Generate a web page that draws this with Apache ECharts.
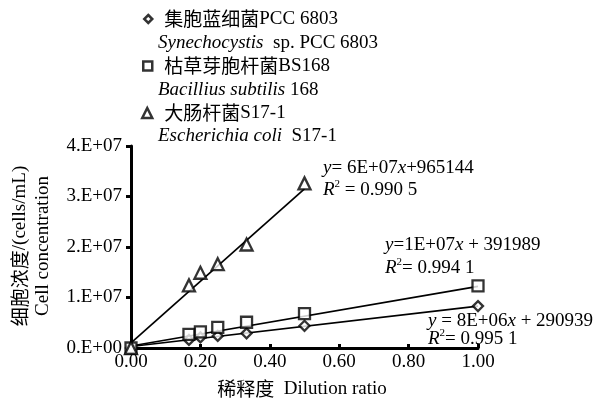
<!DOCTYPE html>
<html><head><meta charset="utf-8">
<script src="https://cdn.jsdelivr.net/npm/echarts@6/dist/echarts.min.js"></script>
<style>html,body{margin:0;padding:0;background:#fff}#c{width:616px;height:401px}</style>
</head><body><div id="c"></div><script>
// ---- data ----
const dilution = [0, 0.167, 0.2, 0.25, 0.333, 0.5, 1.0];
const synechocystis = [0, 0.16e7, 0.21e7, 0.24e7, 0.29e7, 0.44e7, 0.83e7];
const bacillus = [0, 0.27e7, 0.32e7, 0.41e7, 0.51e7, 0.68e7, 1.23e7];
const ecoliDilution = [0, 0.167, 0.2, 0.25, 0.333, 0.5];
const ecoli = [0, 1.24e7, 1.49e7, 1.66e7, 2.05e7, 3.26e7];
const fitX = [0, 1.0];
const synFit = [0.03e7, 0.83e7];
const bacFit = [0.04e7, 1.22e7];
const ecoliFitX = [0, 0.5];
const ecoliFit = [0.1e7, 3.15e7];
const xTickLabels = ['0.00', '0.20', '0.40', '0.60', '0.80', '1.00'];
const yTickLabels = ['0.E+00', '1.E+07', '2.E+07', '3.E+07', '4.E+07'];
const seriesNames = ['集胞蓝细菌PCC 6803', '枯草芽胞杆菌BS168', '大肠杆菌S17-1'];
const latinNames = [['Synechocystis', '  sp. PCC 6803'], ['Bacillius subtilis', ' 168'], ['Escherichia coli', '  S17-1']];
const eqLines = [
  ['{i|y}{n|= 6E+07}{i|x}{n|+965144}', '{i|R}{s|2}{n| = 0.990 5}'],
  ['{i|y}{n|=1E+07}{i|x}{n| + 391989}', '{i|R}{s|2}{n|= 0.994 1}'],
  ['{i|y}{n| = 8E+06}{i|x}{n| + 290939}', '{i|R}{s|2}{n|= 0.995 1}']
];
const xName = ['稀释度', '  Dilution ratio'];
const yName = [['细胞浓度', '/(cells/mL)'], 'Cell concentration'];

// ---- styles ----
const SERIF = 'Liberation Serif';
const CJK = 'Noto Sans CJK SC';
const FS = 19;
const rich = {
  sp: {width: 7},
  cn: {fontFamily: CJK, fontSize: FS, color: '#000', lineHeight: 22},
  n: {fontFamily: SERIF, fontSize: FS, color: '#000', lineHeight: 22},
  i: {fontFamily: SERIF, fontSize: FS, fontStyle: 'italic', color: '#000', lineHeight: 22},
  s: {fontFamily: SERIF, fontSize: 11, color: '#000', verticalAlign: 'top', lineHeight: 14}
};
const markerStyle = {color: '#fff', borderColor: '#000', borderWidth: 2.3};
const splitCn = s => s.replace(/^([\u4e00-\u9fff]+)(.*)$/, '{sp|}{cn|$1}{n|$2}');

const icons = ['diamond', 'rect', 'triangle'];
const iconSize = [8, 9, 10];
const legendTops = [8, 55, 102];
const legendLeft = [143, 142, 141];
const legends = seriesNames.map((nm, k) => ({
  data: [nm], left: legendLeft[k], top: legendTops[k], padding: 0, selectedMode: false,
  icon: icons[k], itemWidth: iconSize[k], itemHeight: iconSize[k],
  itemStyle: {color: '#fff', borderColor: '#000', borderWidth: 2.5},
  formatter: splitCn,
  textStyle: {rich: rich, lineHeight: 22}
}));

const graphics = [];
const latinY = [43, 90, 136];
latinNames.forEach((p, k) => {
  graphics.push({type: 'text', x: 158, y: latinY[k], style: {
    text: '{i|' + p[0] + '}{n|' + p[1] + '}', rich: rich, verticalAlign: 'middle'}});
});
const eqPos = [[323, 168, 190], [385, 245, 268], [428, 321, 339]];
eqLines.forEach((l, k) => {
  graphics.push({type: 'text', x: eqPos[k][0], y: eqPos[k][1], z: 10, style: {text: l[0], rich: rich, verticalAlign: 'middle'}});
  graphics.push({type: 'text', x: eqPos[k][0], y: eqPos[k][2], z: 10, style: {text: l[1], rich: rich, verticalAlign: 'middle'}});
});
graphics.push({type: 'text', x: 302, y: 389, style: {
  text: '{cn|' + xName[0] + '}{n|' + xName[1] + '}', rich: rich, align: 'center', verticalAlign: 'middle'}});
graphics.push({type: 'text', x: 20, y: 246, rotation: Math.PI / 2, style: {
  text: '{cn|' + yName[0][0] + '}{n|' + yName[0][1] + '}', rich: rich, align: 'center', verticalAlign: 'middle'}});
graphics.push({type: 'text', x: 43, y: 246, rotation: Math.PI / 2, style: {
  text: '{n|' + yName[1] + '}', rich: rich, align: 'center', verticalAlign: 'middle'}});

const axisLbl = {fontFamily: SERIF, fontSize: FS, color: '#000'};
const chart = echarts.init(document.getElementById('c'), null, {renderer: 'canvas'});
chart.setOption({
  animation: false,
  backgroundColor: '#fff',
  grid: {left: 131, right: 138, top: 146, bottom: 53},
  legend: legends,
  xAxis: {
    type: 'value', min: 0, max: 1, interval: 0.2,
    axisLine: {show: true, lineStyle: {color: '#000', width: 3}},
    axisTick: {show: true, inside: true, length: 4, lineStyle: {color: '#000', width: 3}},
    axisLabel: Object.assign({margin: 5, formatter: v => xTickLabels[Math.round(v / 0.2)]}, axisLbl),
    splitLine: {show: false}
  },
  yAxis: {
    type: 'value', min: 0, max: 4e7, interval: 1e7,
    axisLine: {show: true, lineStyle: {color: '#000', width: 3}},
    axisTick: {show: true, inside: false, length: 5, lineStyle: {color: '#000', width: 3}},
    axisLabel: Object.assign({margin: 9, formatter: v => yTickLabels[Math.round(v / 1e7)]}, axisLbl),
    splitLine: {show: false}
  },
  graphic: graphics,
  series: [
    {name: 'fit1', type: 'line', data: fitX.map((x, i) => [x, synFit[i]]), symbol: 'none', silent: true, z: 2,
     lineStyle: {color: '#000', width: 1.7}},
    {name: 'fit2', type: 'line', data: fitX.map((x, i) => [x, bacFit[i]]), symbol: 'none', silent: true, z: 2,
     lineStyle: {color: '#000', width: 1.7}},
    {name: 'fit3', type: 'line', data: ecoliFitX.map((x, i) => [x, ecoliFit[i]]), symbol: 'none', silent: true, z: 2,
     lineStyle: {color: '#000', width: 1.7}},
    {name: seriesNames[0], type: 'scatter', z: 5, symbol: 'diamond', symbolSize: 10,
     data: dilution.map((x, i) => [x, synechocystis[i]]), itemStyle: markerStyle},
    {name: seriesNames[1], type: 'scatter', z: 5, symbol: 'rect', symbolSize: 11,
     data: dilution.map((x, i) => [x, bacillus[i]]), itemStyle: markerStyle},
    {name: seriesNames[2], type: 'scatter', z: 5, symbol: 'triangle', symbolSize: 12,
     data: ecoliDilution.map((x, i) => [x, ecoli[i]]), itemStyle: markerStyle}
  ]
});
</script></body></html>
